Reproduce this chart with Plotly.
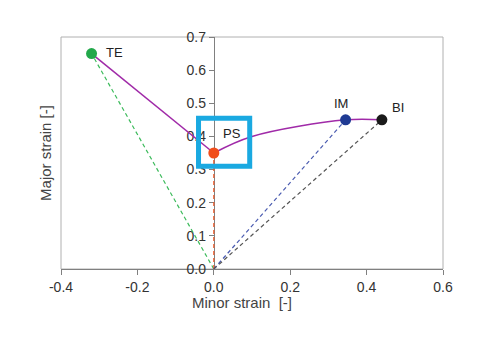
import plotly.graph_objects as go

# Data
point_names = ["TE", "PS", "IM", "BI"]
minor_strain = [-0.32, 0.0, 0.345, 0.44]
major_strain = [0.65, 0.35, 0.45, 0.45]
point_colors = ["#22a84a", "#f04e1c", "#1f3a93", "#1a1a1a"]
ray_colors = ["#3dbb5c", "#f05a28", "#4a5bb0", "#555555"]

# purple path: straight TE->PS, then smooth PS->IM->BI
curve_x = [0.0, 0.1, 0.345, 0.44]
curve_y = [0.35, 0.40, 0.45, 0.45]

x_ticks = [-0.4, -0.2, 0.0, 0.2, 0.4, 0.6]
y_ticks = [0.0, 0.1, 0.2, 0.3, 0.4, 0.5, 0.6, 0.7]

# highlight box around PS (data coords)
box = dict(x0=-0.040, x1=0.094, y0=0.310, y1=0.455)

FONT = "Liberation Sans, Arial"

fig = go.Figure()

# dashed rays from origin
for x, y, c in zip(minor_strain, major_strain, ray_colors):
    fig.add_trace(go.Scatter(x=[0, x], y=[0, y], mode="lines",
                             line=dict(color=c, width=1.2, dash="4px,3px"),
                             showlegend=False, hoverinfo="skip"))

# purple path
fig.add_trace(go.Scatter(x=[minor_strain[0], minor_strain[1]],
                         y=[major_strain[0], major_strain[1]], mode="lines",
                         line=dict(color="#a02aa8", width=1.5),
                         showlegend=False, hoverinfo="skip"))
fig.add_trace(go.Scatter(x=curve_x, y=curve_y, mode="lines",
                         line=dict(color="#a02aa8", width=1.5, shape="spline", smoothing=1.0),
                         showlegend=False, hoverinfo="skip"))

# points
fig.add_trace(go.Scatter(x=minor_strain, y=major_strain, mode="markers",
                         marker=dict(color=point_colors, size=11,
                                     line=dict(width=0)),
                         showlegend=False))

# labels
label_offsets = [(23, 1), (18, 20), (-5, 16), (16, 12)]
for name, x, y, (dx, dy) in zip(point_names, minor_strain, major_strain, label_offsets):
    fig.add_annotation(x=x, y=y, text=name, showarrow=False,
                       xshift=dx, yshift=dy,
                       font=dict(family=FONT, size=13, color="#222"))

# highlight rectangle
fig.add_shape(type="rect", xref="x", yref="y", **box,
              line=dict(color="#1aa9e1", width=5), fillcolor="rgba(0,0,0,0)")

# frame (top, left, right)
fig.add_shape(type="rect", xref="paper", yref="paper", x0=0, x1=1, y0=0, y1=1,
              line=dict(color="#b0b0b0", width=1), layer="below")

fig.update_layout(
    width=494, height=351,
    margin=dict(l=61, r=51, t=37, b=82),
    plot_bgcolor="white", paper_bgcolor="white",
    font=dict(family=FONT, size=14, color="#333"),
    xaxis=dict(range=[-0.4, 0.6], tickvals=x_ticks,
               ticktext=[f"{v:.1f}" for v in x_ticks],
               tickfont=dict(size=14, color="#333"),
               showgrid=False, zeroline=False,
               showline=True, linecolor="#808080", linewidth=1,
               ticks="outside", ticklen=5, tickcolor="#808080",
               layer="below traces"),
    yaxis=dict(range=[0, 0.7], tickvals=y_ticks,
               ticktext=[f"{v:.1f}" for v in y_ticks],
               tickfont=dict(size=14, color="#333"),
               showgrid=False, zeroline=False,
               anchor="free", position=0.4,
               showline=True, linecolor="#808080", linewidth=1,
               ticks="outside", ticklen=5, tickcolor="#808080",
               layer="below traces"),
)

fig.add_annotation(xref="paper", yref="paper", x=0.474, y=-0.146,
                   xanchor="center", yanchor="middle",
                   text="Minor strain  [-]", showarrow=False,
                   font=dict(family=FONT, size=15, color="#444"))

fig.add_annotation(xref="paper", yref="paper", x=-0.042, y=0.5,
                   xanchor="center", yanchor="middle",
                   text="Major strain [-]", textangle=-90, showarrow=False,
                   font=dict(family=FONT, size=15, color="#444"))

fig.write_html("out.html")
